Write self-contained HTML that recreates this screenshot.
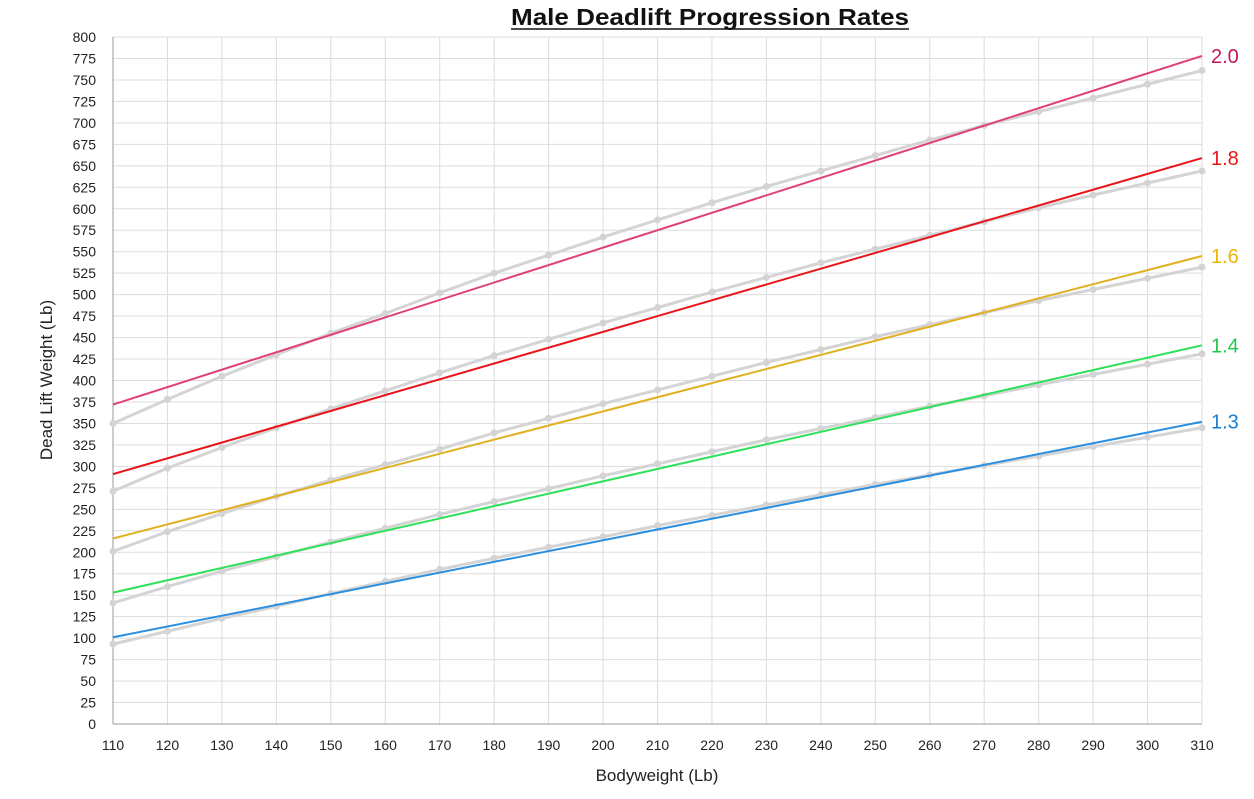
<!DOCTYPE html>
<html><head><meta charset="utf-8"><style>
html,body{margin:0;padding:0;background:#fff;}
svg text{font-family:"Liberation Sans",sans-serif;}
</style></head><body>
<svg id="c" width="1254" height="794" xmlns="http://www.w3.org/2000/svg"></svg>
<script>
const s=document.getElementById('c');
const X=v=>113+(v-110)*(1089/200), Y=v=>724-v*(687/800);
let h='<rect width="1254" height="794" fill="#fff"/>';
for(let v=0;v<=800;v+=25){h+=`<line x1="113" x2="1202" y1="${Y(v)}" y2="${Y(v)}" stroke="#ddd" stroke-width="1"/>`;
h+=`<text x="96" y="${Y(v)+5}" font-size="14" text-anchor="end" fill="#222">${v}</text>`;}
for(let v=110;v<=310;v+=10){h+=`<line y1="37" y2="724" x1="${X(v)}" x2="${X(v)}" stroke="#ddd" stroke-width="1"/>`;
h+=`<text x="${X(v)}" y="750" font-size="14" text-anchor="middle" fill="#222">${v}</text>`;}
h+=`<line x1="113" x2="1202" y1="724" y2="724" stroke="#999"/><line x1="113" x2="113" y1="37" y2="724" stroke="#999"/>`;
const G=[
[350,378,405,430,455,478,502,525,546,567,587,607,626,644,662,680,697,713,729,745,761],
[271,298,322,345,367,388,409,429,448,467,485,503,520,537,553,569,585,601,616,630,644],
[201,224,245,265,284,302,320,339,356,373,389,405,421,436,451,465,479,493,506,519,532],
[141,160,178,195,212,228,244,259,274,289,303,317,331,344,357,370,382,395,407,419,431],
[93,108,123,137,152,166,180,193,206,218,231,243,255,267,279,290,301,312,323,334,345]];
for(const g of G){h+=`<polyline fill="none" stroke="#d4d4d4" stroke-width="3" points="${g.map((v,i)=>X(110+i*10)+','+Y(v)).join(' ')}"/>`;
g.forEach((v,i)=>h+=`<circle cx="${X(110+i*10)}" cy="${Y(v)}" r="3.5" fill="#d4d4d4"/>`);}
const L=[[372,778,'#e0407a','2.0','#c2185b'],[291,659,'#e8161b','1.8','#e8161b'],[216,545,'#e0b020','1.6','#f0b400'],[153,441,'#2ee05a','1.4','#22c84a'],[101,352,'#2a8fe0','1.3','#1a7fd0']];
for(const l of L){h+=`<line x1="${X(110)}" y1="${Y(l[0])}" x2="${X(310)}" y2="${Y(l[1])}" stroke="${l[2]}" stroke-width="2"/>`;
h+=`<text x="1211" y="${Y(l[1])+7}" font-size="20" fill="${l[4]}">${l[3]}</text>`;}
h+=`<text x="511" y="25" font-size="23" font-weight="bold" textLength="398" lengthAdjust="spacingAndGlyphs" fill="#111">Male Deadlift Progression Rates</text>`;
h+=`<line x1="511" x2="909" y1="29" y2="29" stroke="#111" stroke-width="1.5"/>`;
h+=`<text x="657" y="781" font-size="17" text-anchor="middle" fill="#222">Bodyweight (Lb)</text>`;
h+=`<text transform="translate(52,380) rotate(-90)" font-size="17" text-anchor="middle" fill="#222">Dead Lift Weight (Lb)</text>`;
s.innerHTML=h;
</script>
</body></html>
